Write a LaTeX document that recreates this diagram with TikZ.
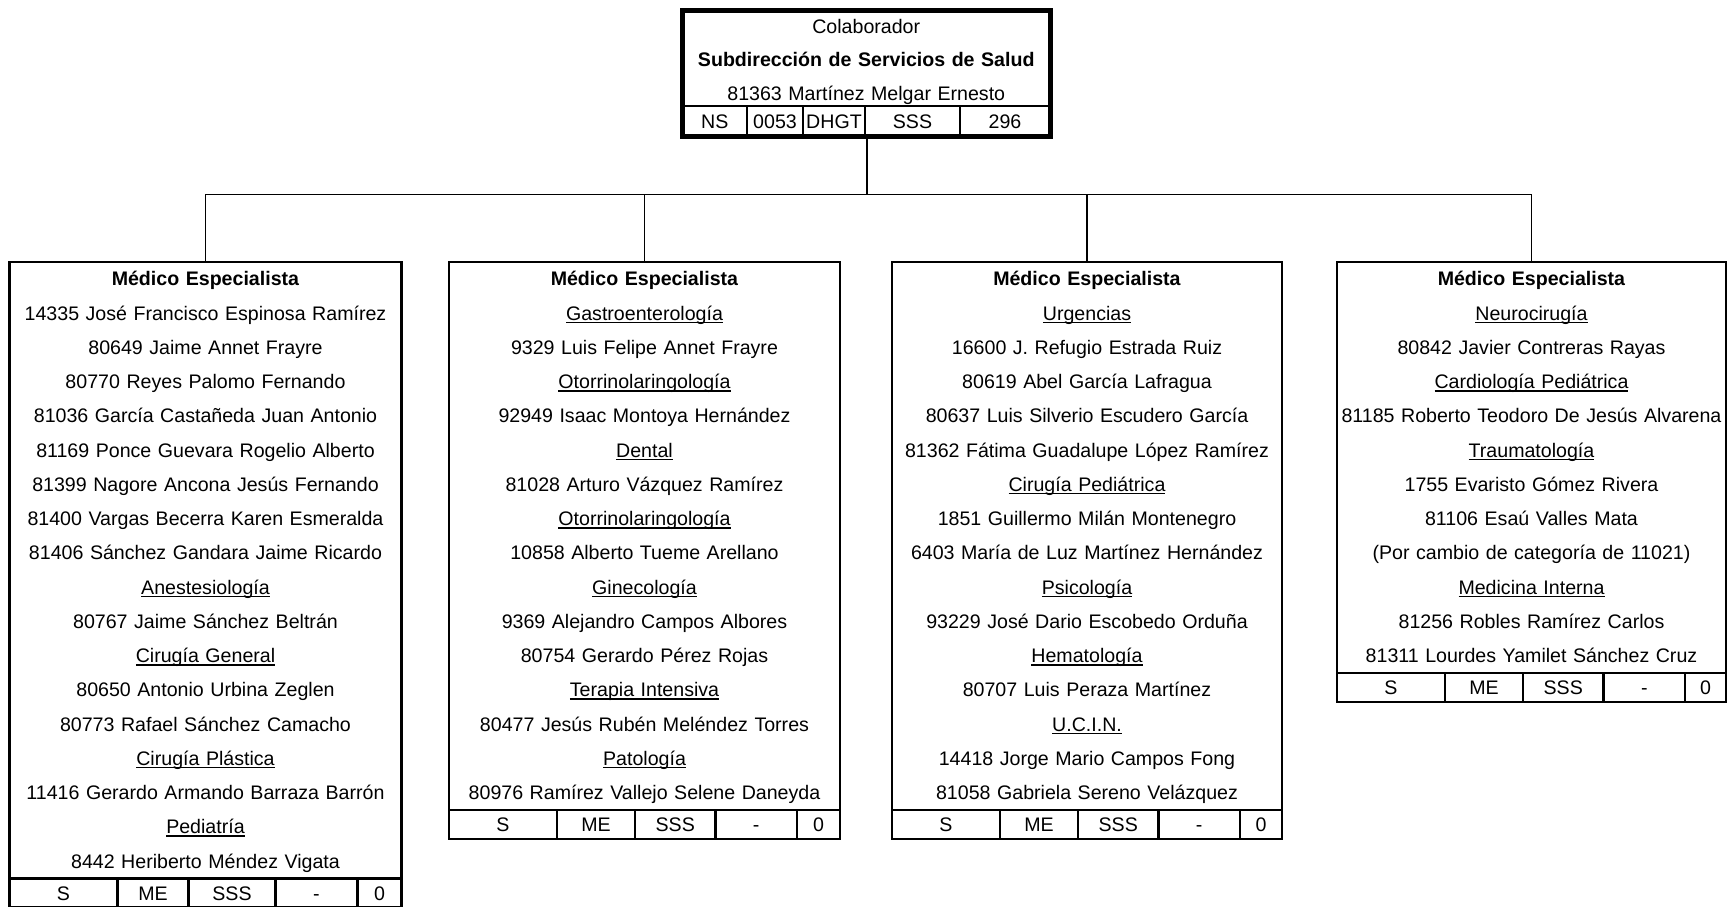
\documentclass[tikz,border=0pt]{standalone}
\usepackage{fontspec}
\setmainfont{Liberation Sans}
\usetikzlibrary{positioning}

% underlined specialty heading
\newcommand{\espec}[1]{\leavevmode\setbox0\hbox{#1}\rlap{\rule[-1.4pt]{\wd0}{0.7pt}}\box0}

\tikzset{
  body/.style={draw, line width=1.2pt, inner sep=0pt, outer sep=0pt, anchor=north, align=center,
    font=\fontsize{9.8}{17.125}\selectfont},
  cell/.style={draw, line width=1.2pt, inner sep=0pt, outer sep=0pt, minimum height=14.5pt,
    text height=7pt, text depth=0pt, font=\fontsize{9.8}{11}\selectfont},
  link/.style={line width=0.85pt}
}

\begin{document}
\begin{tikzpicture}[x=0.5pt, y=-0.5pt]
          \useasboundingbox (0,0) rectangle (1731,906);

          % Top box (collaborator)
          \node[body, line width=1pt, text width=183.75pt, font=\fontsize{9.8}{16.75}\selectfont] (Col) at (866.25,10)
            {\rule{0pt}{11.5pt}Colaborador\\ \textbf{Subdirección de Servicios de Salud}\\ 81363 Martínez Melgar Ernesto\rule[-3pt]{0pt}{3pt}};
          \node[cell, line width=1pt, minimum height=15pt, minimum width=32.25pt, below right=0pt of Col.south west] (Col1) {NS};
          \node[cell, line width=1pt, minimum height=15pt, minimum width=28pt, right=0pt of Col1] (Col2) {0053};
          \node[cell, line width=1pt, minimum height=15pt, minimum width=31pt, right=0pt of Col2] (Col3) {DHGT};
          \node[cell, line width=1pt, minimum height=15pt, minimum width=47.5pt, right=0pt of Col3] (Col4) {SSS};
          \node[cell, line width=1pt, minimum height=15pt, minimum width=45pt, right=0pt of Col4] (Col5) {296};
          \draw[line width=2.5pt] (Col.north west) rectangle (Col5.south east);

          % Medical specialist boxes
          \node[body, text width=196pt] (E1) at (205.5,262)
            {\strut\textbf{Médico Especialista}\\
             14335 José Francisco Espinosa Ramírez\\
             80649 Jaime Annet Frayre\\
             80770 Reyes Palomo Fernando\\
             81036 García Castañeda Juan Antonio\\
             81169 Ponce Guevara Rogelio Alberto\\
             81399 Nagore Ancona Jesús Fernando\\
             81400 Vargas Becerra Karen Esmeralda\\
             81406 Sánchez Gandara Jaime Ricardo\\
             \espec{Anestesiología}\\
             80767 Jaime Sánchez Beltrán\\
             \espec{Cirugía General}\\
             80650 Antonio Urbina Zeglen\\
             80773 Rafael Sánchez Camacho\\
             \espec{Cirugía Plástica}\\
             11416 Gerardo Armando Barraza Barrón\\
             \espec{Pediatría}\\
             8442 Heriberto Méndez Vigata\strut};
          \node[body, text width=195.5pt] (E2) at (644.5,262)
            {\strut\textbf{Médico Especialista}\\
             \espec{Gastroenterología}\\
             9329 Luis Felipe Annet Frayre\\
             \espec{Otorrinolaringología}\\
             92949 Isaac Montoya Hernández\\
             \espec{Dental}\\
             81028 Arturo Vázquez Ramírez\\
             \espec{Otorrinolaringología}\\
             10858 Alberto Tueme Arellano\\
             \espec{Ginecología}\\
             9369 Alejandro Campos Albores\\
             80754 Gerardo Pérez Rojas\\
             \espec{Terapia Intensiva}\\
             80477 Jesús Rubén Meléndez Torres\\
             \espec{Patología}\\
             80976 Ramírez Vallejo Selene Daneyda\strut};
          \node[body, text width=195pt] (E3) at (1087,262)
            {\strut\textbf{Médico Especialista}\\
             \espec{Urgencias}\\
             16600 J. Refugio Estrada Ruiz\\
             80619 Abel García Lafragua\\
             80637 Luis Silverio Escudero García\\
             81362 Fátima Guadalupe López Ramírez\\
             \espec{Cirugía Pediátrica}\\
             1851 Guillermo Milán Montenegro\\
             6403 María de Luz Martínez Hernández\\
             \espec{Psicología}\\
             93229 José Dario Escobedo Orduña\\
             \espec{Hematología}\\
             80707 Luis Peraza Martínez\\
             \espec{U.C.I.N.}\\
             14418 Jorge Mario Campos Fong\\
             81058 Gabriela Sereno Velázquez\strut};
          \node[body, text width=194.5pt] (E4) at (1531.5,262)
            {\strut\textbf{Médico Especialista}\\
             \espec{Neurocirugía}\\
             80842 Javier Contreras Rayas\\
             \espec{Cardiología Pediátrica}\\
             81185 Roberto Teodoro De Jesús Alvarena\\
             \espec{Traumatología}\\
             1755 Evaristo Gómez Rivera\\
             81106 Esaú Valles Mata\\
             (Por cambio de categoría de 11021)\\
             \espec{Medicina Interna}\\
             81256 Robles Ramírez Carlos\\
             81311 Lourdes Yamilet Sánchez Cruz\strut};

          % Code rows under each box
          \node[cell, minimum width=54pt, below right=0pt of E1.south west] (E1a) {S};
          \node[cell, minimum width=35.5pt, right=0pt of E1a] (E1b) {ME};
          \node[cell, minimum width=43.5pt, right=0pt of E1b] (E1c) {SSS};
          \node[cell, minimum width=41pt, right=0pt of E1c] (E1d) {-};
          \node[cell, minimum width=22pt, right=0pt of E1d] (E1e) {0};

          \node[cell, minimum width=54pt, below right=0pt of E2.south west] (E2a) {S};
          \node[cell, minimum width=39pt, right=0pt of E2a] (E2b) {ME};
          \node[cell, minimum width=40.25pt, right=0pt of E2b] (E2c) {SSS};
          \node[cell, minimum width=40.75pt, right=0pt of E2c] (E2d) {-};
          \node[cell, minimum width=21.5pt, right=0pt of E2d] (E2e) {0};

          \node[cell, minimum width=54pt, below right=0pt of E3.south west] (E3a) {S};
          \node[cell, minimum width=39pt, right=0pt of E3a] (E3b) {ME};
          \node[cell, minimum width=40.25pt, right=0pt of E3b] (E3c) {SSS};
          \node[cell, minimum width=40.75pt, right=0pt of E3c] (E3d) {-};
          \node[cell, minimum width=21pt, right=0pt of E3d] (E3e) {0};

          \node[cell, minimum width=54pt, below right=0pt of E4.south west] (E4a) {S};
          \node[cell, minimum width=39pt, right=0pt of E4a] (E4b) {ME};
          \node[cell, minimum width=40.25pt, right=0pt of E4b] (E4c) {SSS};
          \node[cell, minimum width=40.75pt, right=0pt of E4c] (E4d) {-};
          \node[cell, minimum width=20.5pt, right=0pt of E4d] (E4e) {0};

          % Connectors
          \coordinate (J) at (867,194.5);
          \draw[link] (J |- Col4.south) -- (J);
          \draw[link] (E1.north) |- (J) -| (E4.north);
          \draw[link] (E2.north) -- (E2.north |- J);
          \draw[link] (E3.north) -- (E3.north |- J);
        \end{tikzpicture}
\end{document}
